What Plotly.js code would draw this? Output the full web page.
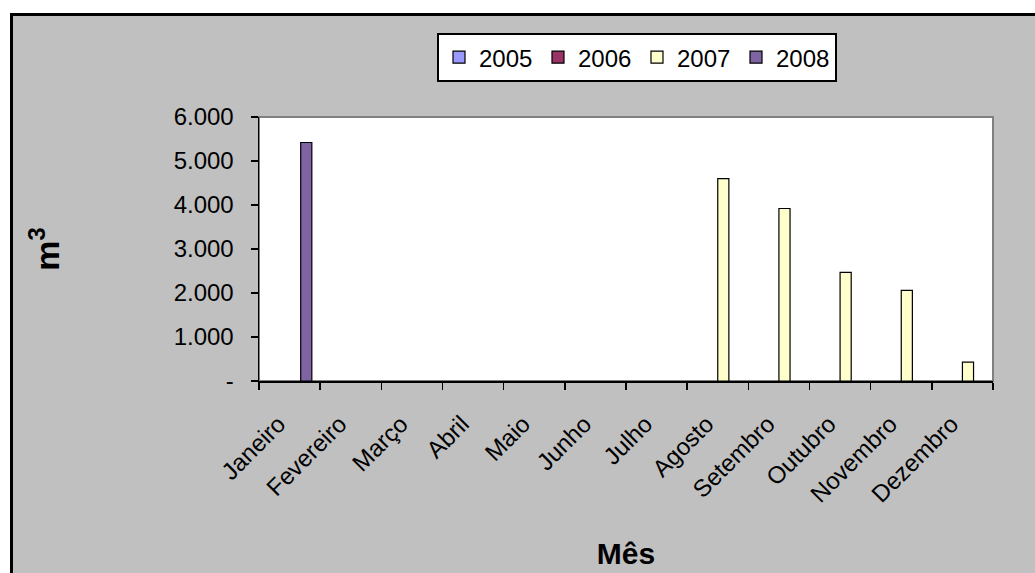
<!DOCTYPE html>
<html>
<head>
<meta charset="utf-8">
<script src="https://cdn.plot.ly/plotly-3.0.1.min.js"></script>
<style>
  html, body { margin: 0; padding: 0; background: #ffffff; }
  #frame { position: absolute; left: 10px; top: 13px; width: 1025px; height: 560px;
           border-left: 3px solid #000; border-top: 3px solid #000; box-sizing: border-box; background: #C0C0C0; }
  #chart { width: 1022px; height: 557px; }
</style>
</head>
<body>
<div id="frame"><div id="chart"></div></div>
<script>
const months = ['Janeiro', 'Fevereiro', 'Março', 'Abril', 'Maio', 'Junho',
                'Julho', 'Agosto', 'Setembro', 'Outubro', 'Novembro', 'Dezembro'];
const seriesNames = ['2005', '2006', '2007', '2008'];
const v2005 = [null, null, null, null, null, null, null, null, null, null, null, null];
const v2006 = [null, null, null, null, null, null, null, null, null, null, null, null];
const v2007 = [null, null, null, null, null, null, null, 4600, 3920, 2470, 2060, 430];
const v2008 = [5420, null, null, null, null, null, null, null, null, null, null, null];
const seriesColors = ['#9999FF', '#993366', '#FFFFCC', '#7E64A2'];
const yTickVals = [0, 1000, 2000, 3000, 4000, 5000, 6000];
const yTickText = ['-', '1.000', '2.000', '3.000', '4.000', '5.000', '6.000'];

const values = [v2005, v2006, v2007, v2008];
const FONT = 'Liberation Sans, Arial, sans-serif';

const traces = values.map((vals, i) => ({
  type: 'bar',
  name: seriesNames[i],
  x: months,
  y: vals,
  marker: { color: seriesColors[i], line: { color: '#000000', width: 1.2 } },
  hoverinfo: 'x+y+name'
}));

const layout = {
  width: 1022,
  height: 557,
  margin: { l: 246, r: 42, t: 101, b: 192, pad: 0 },
  paper_bgcolor: '#C0C0C0',
  plot_bgcolor: '#FFFFFF',
  font: { family: FONT, size: 24, color: '#000000' },
  barmode: 'group',
  bargap: 0.2727,
  bargroupgap: 0,
  showlegend: true,
  legend: {
    orientation: 'h',
    x: 0.2425, xanchor: 'left',
    y: 1.318, yanchor: 'top',
    bgcolor: '#FFFFFF',
    bordercolor: '#000000',
    borderwidth: 2,
    font: { family: FONT, size: 24, color: '#000000' },
    entrywidth: 54,
    entrywidthmode: 'pixels',
    traceorder: 'normal'
  },
  xaxis: {
    type: 'category',
    categoryorder: 'array',
    categoryarray: months,
    tickangle: -45,
    tickson: 'boundaries',
    ticks: 'outside',
    ticklen: 7,
    tickwidth: 1.5,
    tickcolor: '#000000',
    showline: true,
    linecolor: '#000000',
    linewidth: 1.5,
    showgrid: false,
    zeroline: false,
    ticklabelshift: -11,
    ticklabelstandoff: 18,
    tickfont: { family: FONT, size: 24, color: '#000000' },
    title: { text: 'Mês', font: { family: FONT, size: 30, color: '#000000', weight: 'bold' }, standoff: 36 }
  },
  yaxis: {
    range: [0, 6000],
    tickvals: yTickVals,
    ticktext: yTickText,
    ticks: 'outside',
    ticklen: 7,
    tickwidth: 1.5,
    tickcolor: '#000000',
    showline: true,
    linecolor: '#000000',
    linewidth: 1.5,
    showgrid: false,
    zeroline: false,
    ticklabelstandoff: 12,
    tickfont: { family: FONT, size: 24, color: '#000000' },
    title: { text: 'm<sup>3</sup>', font: { family: FONT, size: 34, color: '#000000', weight: 'bold' }, standoff: 103 }
  },
  shapes: [{
    type: 'rect', xref: 'paper', yref: 'paper', x0: 0, x1: 1, y0: 0, y1: 1,
    line: { color: '#808080', width: 2 }, fillcolor: 'rgba(0,0,0,0)', layer: 'below'
  }]
};

Plotly.newPlot('chart', traces, layout, { displayModeBar: false, staticPlot: true });
</script>
</body>
</html>
